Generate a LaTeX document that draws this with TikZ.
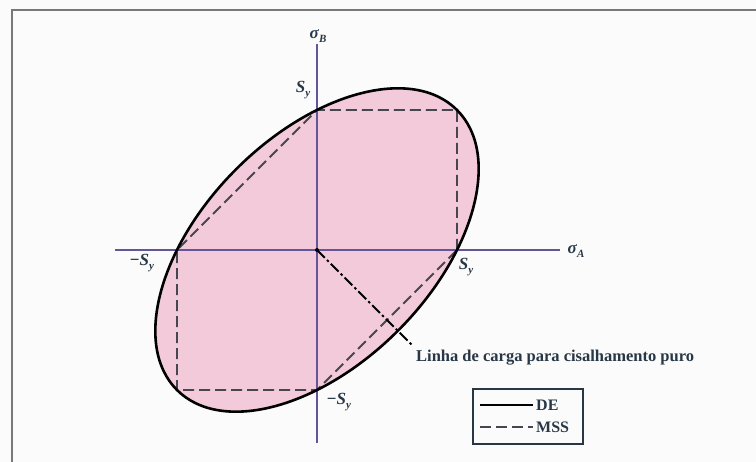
\documentclass[tikz,border=0pt]{standalone}
\usepackage{fontspec}
\setmainfont{Liberation Serif}
\newcommand\mylab[2]{\textbf{\textit{#1}}\raisebox{-0.45ex}{\fontsize{11}{12}\selectfont\textbf{\textit{#2}}}}
\begin{document}
\begin{tikzpicture}[x=1pt,y=1pt,
  axiscol/.style={draw=axisc, line width=1.3pt},
  de/.style={draw=black, line width=2.6pt},
  mss/.style={draw=dashc, line width=1.8pt, dash pattern=on 11pt off 5pt},
  loadline/.style={draw=black, line width=1.8pt, dash pattern=on 11pt off 3pt on 2.5pt off 3pt},
  lbl/.style={inner sep=0pt, text=txtc, font=\fontsize{17}{19}\selectfont},
  txt/.style={inner sep=0pt, font=\fontsize{16.5}{18}\selectfont\bfseries, text=txtc},
  legtxt/.style={inner sep=0pt, font=\fontsize{16}{18}\selectfont\bfseries, text=txtc}
]
\definecolor{bgc}{RGB}{250,251,250}
\definecolor{pinkc}{RGB}{243,202,218}
\definecolor{axisc}{RGB}{100,85,155}
\definecolor{dashc}{RGB}{70,70,80}
\definecolor{framec}{RGB}{120,120,120}
\definecolor{txtc}{RGB}{40,55,70}
% background / bounding box
\fill[bgc] (-317,-212) rectangle (439,250);
\useasboundingbox (-317,-212) rectangle (439,250);
% frame
\draw[framec, line width=2pt] (-305,-214) -- (-305,240) -- (441,240);
% pink region
\fill[pinkc, rotate=45] (0,0) ellipse [x radius=197.99, y radius=114.31];
% axes
\coordinate (O) at (0,0);
\coordinate (xl) at (-202,0);
\coordinate (xr) at (243,0);
\coordinate (yt) at (0,206);
\coordinate (yb) at (0,-193);
\draw[axiscol] (xl) -- (xr);
\draw[axiscol] (yb) -- (yt);
% MSS hexagon
\draw[mss] (140,0) -- (140,140) -- (0,140) -- (-140,0) -- (-140,-140) -- (0,-140) -- cycle;
% DE ellipse
\draw[de, rotate=45] (0,0) ellipse [x radius=197.99, y radius=114.31];
% origin dot
\fill[black] (O) circle (2pt);
% labels
\node[lbl] (sB) at (1,214) {\mylab{σ}{B}};
\node[lbl] (sA) at (259,-1) {\mylab{σ}{A}};
\node[lbl] (syt) at (-14,160) {\mylab{S}{y}};
\node[lbl] (syl) at (-175,-13) {\textbf{−}\mylab{S}{y}};
\node[lbl] (syr) at (149,-17) {\mylab{S}{y}};
\node[lbl] (syb) at (22,-152) {\textbf{−}\mylab{S}{y}};
% load line
\node[txt, anchor=west] (load) at (99,-108) {Linha de carga para cisalhamento puro};
\coordinate (le) at (95,-95);
\draw[loadline] (O) -- (le);
% legend
\node[draw=txtc, line width=1.6pt, minimum width=110pt, minimum height=55pt, anchor=north west, inner sep=0pt] (leg) at (155,-138) {};
\coordinate (d1) at (163,-155);
\coordinate (d2) at (216,-155);
\coordinate (m1) at (163,-177);
\coordinate (m2) at (216,-177);
\draw[de, line width=2.2pt] (d1) -- (d2);
\draw[mss] (m1) -- (m2);
\node[legtxt, anchor=west] (deT) at (219,-155) {DE};
\node[legtxt, anchor=west] (mssT) at (219,-177) {MSS};
\end{tikzpicture}
\end{document}
